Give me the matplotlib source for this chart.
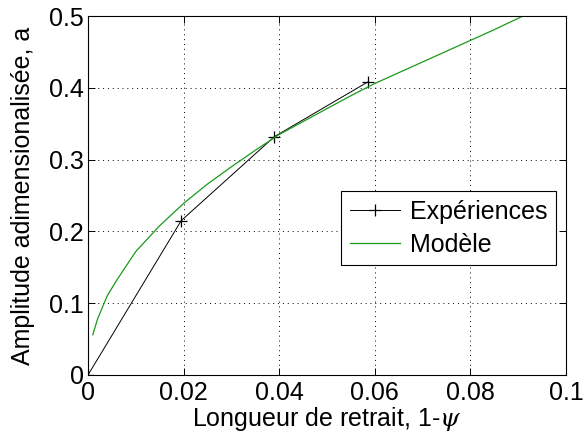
import matplotlib
matplotlib.use("Agg")
import matplotlib.pyplot as plt

plt.rcParams['font.family'] = ['Liberation Sans', 'DejaVu Sans']
plt.rcParams['mathtext.fontset'] = 'dejavuserif'

# Experimental data
exp_x = [0.0, 0.0195, 0.039, 0.0585]
exp_a = [0.0, 0.215, 0.332, 0.408]

# Model curve
mod_x = [0.001, 0.002, 0.004, 0.006, 0.008, 0.010, 0.015, 0.020, 0.025, 0.030,
         0.035, 0.040, 0.045, 0.050, 0.055, 0.060, 0.065, 0.070, 0.075, 0.080,
         0.085, 0.091]
mod_a = [0.056, 0.078, 0.110, 0.132, 0.152, 0.172, 0.208, 0.239, 0.266, 0.290,
         0.313, 0.335, 0.353, 0.371, 0.389, 0.406, 0.421, 0.436, 0.451, 0.466,
         0.481, 0.500]

xticks = [0, 0.02, 0.04, 0.06, 0.08, 0.1]
xticklabels = ['0', '0.02', '0.04', '0.06', '0.08', '0.1']
yticks = [0, 0.1, 0.2, 0.3, 0.4, 0.5]
yticklabels = ['0', '0.1', '0.2', '0.3', '0.4', '0.5']

FS = 18

fig = plt.figure(figsize=(5.84, 4.41), dpi=100)
ax = fig.add_axes([88/584, 1-375/441, (566-88)/584, (375-16)/441])

ax.plot(exp_x, exp_a, color='black', lw=0.7, marker='+', ms=9, mew=0.9,
        label='Expériences')
ax.plot(mod_x, mod_a, color='#1a9a1a', lw=0.9, label='Modèle')

ax.set_xlim(0, 0.1)
ax.set_ylim(0, 0.5)
ax.set_xticks(xticks)
ax.set_xticklabels(xticklabels)
ax.set_yticks(yticks)
ax.set_yticklabels(yticklabels)
ax.tick_params(direction='in', top=True, right=True, labelsize=FS, length=5,
               width=0.7)
ax.tick_params(axis='x', pad=4)
ax.tick_params(axis='y', pad=3)
for s in ax.spines.values():
    s.set_linewidth(0.8)
ax.grid(True, linestyle=(0, (1, 4)), color='black', lw=0.7)

ax.set_xlabel(r'Longueur de retrait, 1-$\psi$', fontsize=FS, labelpad=0)
ax.set_ylabel('Amplitude adimensionalisée, a', fontsize=FS, labelpad=10)

leg = ax.legend(loc='upper left', bbox_to_anchor=(0.529, 0.512), fontsize=FS,
                fancybox=False, edgecolor='black', framealpha=1,
                handlelength=2.0, borderpad=0.35, labelspacing=0.35,
                handletextpad=0.4, borderaxespad=0)
leg.get_frame().set_linewidth(0.8)

fig.savefig('out.png', dpi=100)
